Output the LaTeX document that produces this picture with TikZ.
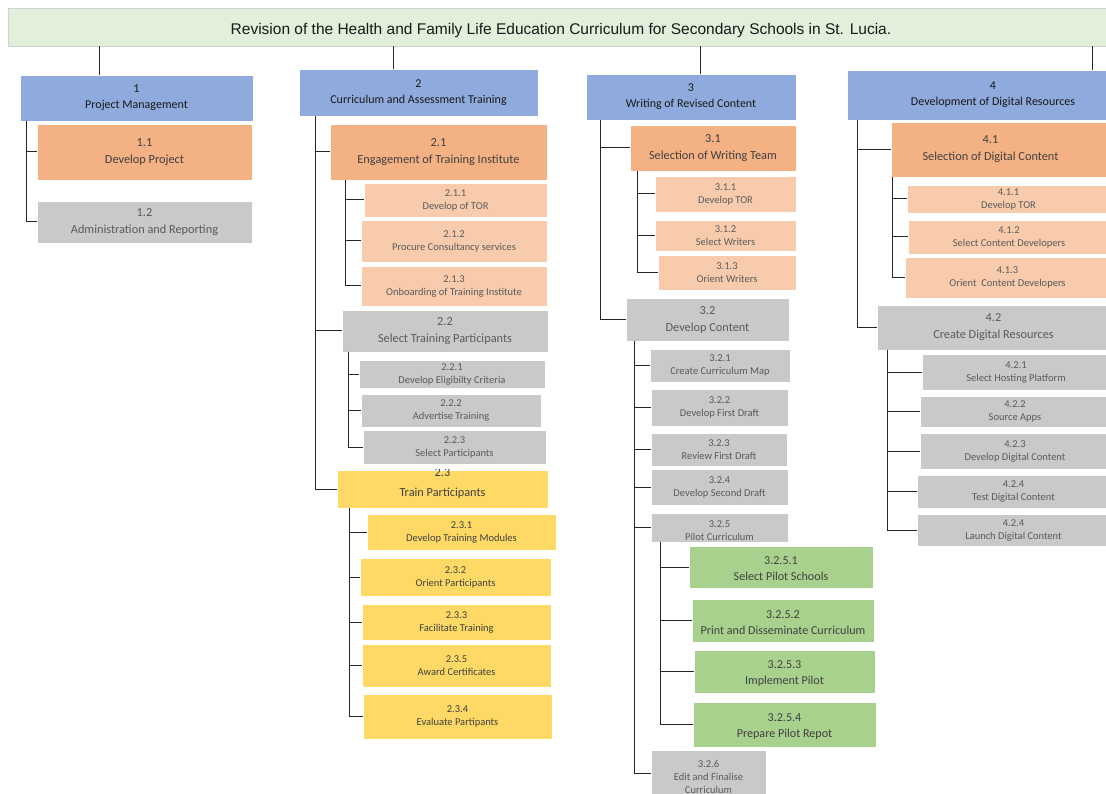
\documentclass[tikz,border=0pt]{standalone}
\usepackage{fontspec}
\setmainfont{Carlito}
\newfontfamily\titlefont{Liberation Sans}
\definecolor{ttl}{HTML}{E2EFDA}
\definecolor{lone}{HTML}{8FAADC}
\definecolor{org}{HTML}{F4B183}
\definecolor{lorg}{HTML}{F8CBAD}
\definecolor{gry}{HTML}{C9C9C9}
\definecolor{ylw}{HTML}{FFD966}
\definecolor{grn}{HTML}{A9D18E}
\definecolor{txtd}{HTML}{404040}
\definecolor{txtg}{HTML}{5A5A5A}
\tikzset{
  wbox/.style={draw=white, line width=0.8pt, inner sep=0pt, align=center},
  lvone/.style={wbox, fill=lone, font=\fontsize{12}{16}\selectfont, text=black!90},
  lvtwo/.style={wbox, fill=org, font=\fontsize{12.3}{17}\selectfont, text=txtd},
  lvtwogray/.style={wbox, fill=gry, font=\fontsize{12.3}{17}\selectfont, text=txtg},
  lvtwoyel/.style={wbox, fill=ylw, font=\fontsize{12.3}{17}\selectfont, text=txtd},
  suborg/.style={wbox, fill=lorg, font=\fontsize{10.5}{13}\selectfont, text=txtg},
  subgray/.style={wbox, fill=gry, font=\fontsize{10.5}{13}\selectfont, text=txtg},
  subyel/.style={wbox, fill=ylw, font=\fontsize{10.5}{13}\selectfont, text=txtd},
  subgrn/.style={wbox, fill=grn, font=\fontsize{12.1}{16}\selectfont, text=txtd},
  conn/.style={draw=black!85, line width=1pt},
}
\newcommand\wbs[9][]{%
  \node[#7,minimum width={#5pt-#3pt},minimum height={#6pt-#4pt}] (#2) at ({(#3+#5)/2},{(#4+#6)/2}) {};
  \node[#7,fill=none,draw=none,minimum width=0pt,minimum height=0pt,#1] at (#2.center) {#8\\#9};}
\begin{document}
\begin{tikzpicture}[x=1pt,y=-1pt]
\useasboundingbox (0,0) rectangle (1106,794);
\clip (0,0) rectangle (1106,794);
\fill[white] (0,0) rectangle (1106,794);

% title
\node[draw=gray!35, line width=0.8pt, fill=ttl, minimum width=1106pt, minimum height=38pt, inner sep=0pt] (title) at (561,27) {};
\node[font=\titlefont\fontsize{15.5}{18}\selectfont, text=black!90, inner sep=0pt] (titletxt) at (561,30)
      {Revision of the Health and Family Life Education Curriculum for Secondary Schools in St. Lucia.};

% level 1
\wbs{b1}{20}{75}{253}{121}{lvone}{1}{Project Management}
\wbs{b2}{299}{69}{538}{116}{lvone}{2}{Curriculum and Assessment Training}
\wbs{b3}{586}{74}{796}{120}{lvone}{3}{Writing of Revised Content}
\wbs{b4}{847}{70}{1139}{120}{lvone}{4}{Development of Digital Resources}

% column 1
\wbs{b11}{37}{124}{252}{180}{lvtwo}{1.1}{Develop Project}
\wbs{b12}{37}{201}{252}{243}{lvtwogray}{1.2}{Administration and Reporting}

% column 2
\wbs{b21}{330}{124}{547}{180}{lvtwo}{2.1}{Engagement of Training Institute}
\wbs{b211}{364}{183}{547}{217}{suborg}{2.1.1}{Develop of TOR}
\wbs{b212}{361}{220}{547}{262}{suborg}{2.1.2}{Procure Consultancy services}
\wbs{b213}{361}{266}{547}{306}{suborg}{2.1.3}{Onboarding of Training Institute}
\wbs{b22}{342}{310}{548}{352}{lvtwogray}{2.2}{Select Training Participants}
\wbs{b221}{359}{360}{545}{388}{subgray}{2.2.1}{Develop Eligibilty Criteria}
\wbs{b222}{361}{394}{541}{427}{subgray}{2.2.2}{Advertise Training}
\wbs{b223}{363}{430}{546}{464}{subgray}{2.2.3}{Select Participants}
\node[lvtwoyel, minimum width=211pt, minimum height=38pt] (b23) at (442.5,489) {};
\begin{scope}
  \clip (b23.south west) rectangle (b23.north east);
  \node[lvtwoyel, fill=none, draw=none] (b23num) at (442.5,473) {2.3};
\end{scope}
\node[lvtwoyel, fill=none, draw=none] (b23txt) at (442.5,493) {Train Participants};
\wbs{b231}{367}{514}{556}{550}{subyel}{2.3.1}{Develop Training Modules}
\wbs{b232}{360}{558}{551}{596}{subyel}{2.3.2}{Orient Participants}
\wbs{b233}{362}{604}{551}{640}{subyel}{2.3.3}{Facilitate Training}
\wbs{b235}{362}{644}{551}{687}{subyel}{2.3.5}{Award Certificates}
\wbs{b234}{363}{694}{552}{739}{subyel}{2.3.4}{Evaluate Partipants}

% column 3
\wbs{b31}{630}{125}{796}{171}{lvtwo}{3.1}{Selection of Writing Team}
\wbs{b311}{655}{176}{796}{212}{suborg}{3.1.1}{Develop TOR}
\wbs{b312}{655}{220}{796}{251}{suborg}{3.1.2}{Select Writers}
\wbs{b313}{658}{255}{796}{290}{suborg}{3.1.3}{Orient Writers}
\wbs{b32}{626}{298}{789}{341}{lvtwogray}{3.2}{Develop Content}
\wbs{b321}{650}{349}{790}{382}{subgray}{3.2.1}{Create Curriculum Map}
\wbs{b322}{651}{389}{788}{426}{subgray}{3.2.2}{Develop First Draft}
\wbs{b323}{651}{433}{787}{466}{subgray}{3.2.3}{Review First Draft}
\wbs{b324}{651}{469}{788}{505}{subgray}{3.2.4}{Develop Second Draft}
\wbs[yshift=-3pt]{b325}{651}{513}{788}{542}{subgray}{3.2.5}{Pilot Curriculum}
\wbs[yshift=-2pt]{b3251}{689}{546}{873}{588}{subgrn}{3.2.5.1}{Select Pilot Schools}
\wbs[yshift=-2pt]{b3252}{692}{599}{874}{642}{subgrn}{3.2.5.2}{Print and Disseminate Curriculum}
\wbs[yshift=-2pt]{b3253}{694}{650}{875}{693}{subgrn}{3.2.5.3}{Implement Pilot}
\wbs[yshift=-2pt]{b3254}{693}{702}{876}{747}{subgrn}{3.2.5.4}{Prepare Pilot Repot}
\wbs[yshift=1pt]{b326}{651}{750}{766}{805}{subgray}{3.2.6\\Edit and Finalise}{Curriculum}

% column 4
\wbs[xshift=-10pt]{b41}{891}{122}{1110}{177}{lvtwo}{4.1}{Selection of Digital Content}
\wbs{b411}{907}{185}{1110}{213}{suborg}{4.1.1}{Develop TOR}
\wbs{b412}{908}{220}{1110}{254}{suborg}{4.1.2}{Select Content Developers}
\wbs{b413}{905}{257}{1110}{298}{suborg}{4.1.3}{Orient\ \ Content Developers}
\wbs{b42}{877}{305}{1110}{350}{lvtwogray}{4.2}{Create Digital Resources}
\wbs{b421}{922}{354}{1110}{390}{subgray}{4.2.1}{Select Hosting Platform}
\wbs{b422}{920}{396}{1110}{427}{subgray}{4.2.2}{Source Apps}
\wbs{b423}{920}{433}{1110}{469}{subgray}{4.2.3}{Develop Digital Content}
\wbs{b424}{917}{475}{1110}{508}{subgray}{4.2.4}{Test Digital Content}
\wbs{b425}{917}{514}{1110}{546}{subgray}{4.2.4}{Launch Digital Content}

% title to level 1
\coordinate (x1) at (99,0);
\coordinate (x2) at (393,0);
\coordinate (x3) at (700,0);
\coordinate (x4) at (1092,0);
\draw[conn] (title.south -| x1) -- (b1.north -| x1);
\draw[conn] (title.south -| x2) -- (b2.north -| x2);
\draw[conn] (title.south -| x3) -- (b3.north -| x3);
\draw[conn] (title.south -| x4) -- (b4.north -| x4);

% trunks
\coordinate (t1) at (26,121);
\foreach \c in {b11,b12} \draw[conn] (t1) |- (\c.west);
\coordinate (t2) at (315,116);
\foreach \c in {b21,b22,b23} \draw[conn] (t2) |- (\c.west);
\coordinate (t21) at (345,180);
\foreach \c in {b211,b212,b213} \draw[conn] (t21) |- (\c.west);
\coordinate (t22) at (348,352);
\foreach \c in {b221,b222,b223} \draw[conn] (t22) |- (\c.west);
\coordinate (t23) at (349,508);
\foreach \c in {b231,b232,b233,b235,b234} \draw[conn] (t23) |- (\c.west);
\coordinate (t3) at (600,120);
\foreach \c in {b31,b32} \draw[conn] (t3) |- (\c.west);
\coordinate (t31) at (637,171);
\foreach \c in {b311,b312,b313} \draw[conn] (t31) |- (\c.west);
\coordinate (t32) at (634,341);
\foreach \c in {b321,b322,b323,b324,b325} \draw[conn] (t32) |- (\c.west);
\coordinate (t326) at (651,773);
\draw[conn] (t32) |- (t326);
\coordinate (t325) at (660,542);
\foreach \c in {b3251,b3252,b3253,b3254} \draw[conn] (t325) |- (\c.west);
\coordinate (t4) at (857,120);
\foreach \c in {b41,b42} \draw[conn] (t4) |- (\c.west);
\coordinate (t41) at (892,177);
\foreach \c in {b411,b412,b413} \draw[conn] (t41) |- (\c.west);
\coordinate (t42) at (887,350);
\foreach \c in {b421,b422,b423,b424,b425} \draw[conn] (t42) |- (\c.west);
\end{tikzpicture}
\end{document}
